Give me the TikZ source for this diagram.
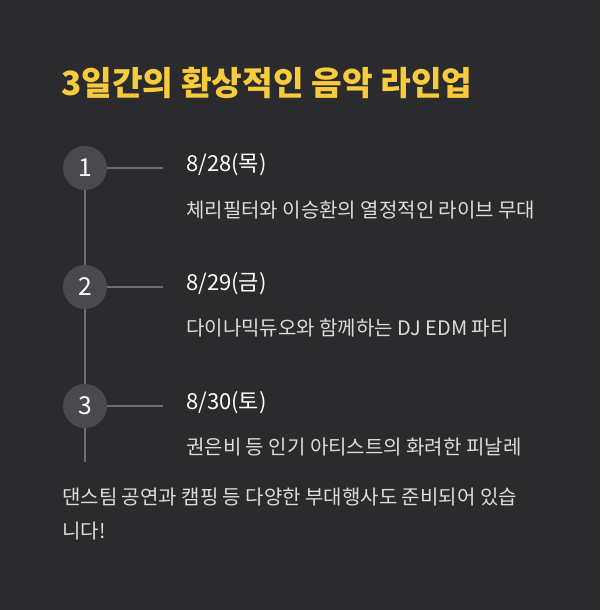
\documentclass[tikz,border=0pt]{standalone}
\usepackage{fontspec}
\setmainfont{Noto Sans CJK KR}
\definecolor{bgdark}{HTML}{2B2B2E}
\definecolor{titleyel}{HTML}{F7CB3D}
\definecolor{stepgray}{HTML}{4A4A4E}
\definecolor{linegray}{HTML}{6E6E72}
\definecolor{desctext}{HTML}{DDDDDD}
\tikzset{
  stepdot/.style={circle,fill=stepgray,minimum size=33pt,inner sep=0pt,text=white,font=\fontsize{18.5}{20}\selectfont},
  date/.style={anchor=west,inner sep=0pt,text=white,font=\fontsize{16.5}{19}\selectfont},
  desc/.style={anchor=west,inner sep=0pt,text=desctext,font=\fontsize{15}{18}\selectfont},
}
\begin{document}
\begin{tikzpicture}[x=0.75pt,y=-0.75pt]
\fill[bgdark] (0,0) rectangle (600,610);
\useasboundingbox (0,0) rectangle (600,610);

\node[anchor=west,inner sep=0pt,text=titleyel,font=\fontsize{25}{28}\selectfont\bfseries] (title) at (61,83) {3일간의 환상적인 음악 라인업};

\coordinate (top) at (85,168);
\coordinate (bot) at (85,462);
\draw[linegray,line width=1.5pt] (top) -- (bot);

\node[stepdot] (s1) at (85,168) {1};
\node[stepdot] (s2) at (85,287) {2};
\node[stepdot] (s3) at (85,406) {3};

\coordinate (e1) at (163,168);
\coordinate (e2) at (163,287);
\coordinate (e3) at (163,406);
\draw[linegray,line width=1.5pt] (s1) -- (e1);
\draw[linegray,line width=1.5pt] (s2) -- (e2);
\draw[linegray,line width=1.5pt] (s3) -- (e3);

\node[date] (d1) at (186,165) {8/28(목)};
\node[desc] (t1) at (186,210) {체리필터와 이승환의 열정적인 라이브 무대};
\node[date] (d2) at (186,284) {8/29(금)};
\node[desc] (t2) at (186,328) {다이나믹듀오와 함께하는 DJ EDM 파티};
\node[date] (d3) at (186,403) {8/30(토)};
\node[desc] (t3) at (186,447) {권은비 등 인기 아티스트의 화려한 피날레};

\node[desc] (f1) at (62,497) {댄스팀 공연과 캠핑 등 다양한 부대행사도 준비되어 있습};
\node[desc] (f2) at (62,531) {니다!};
\end{tikzpicture}
\end{document}
